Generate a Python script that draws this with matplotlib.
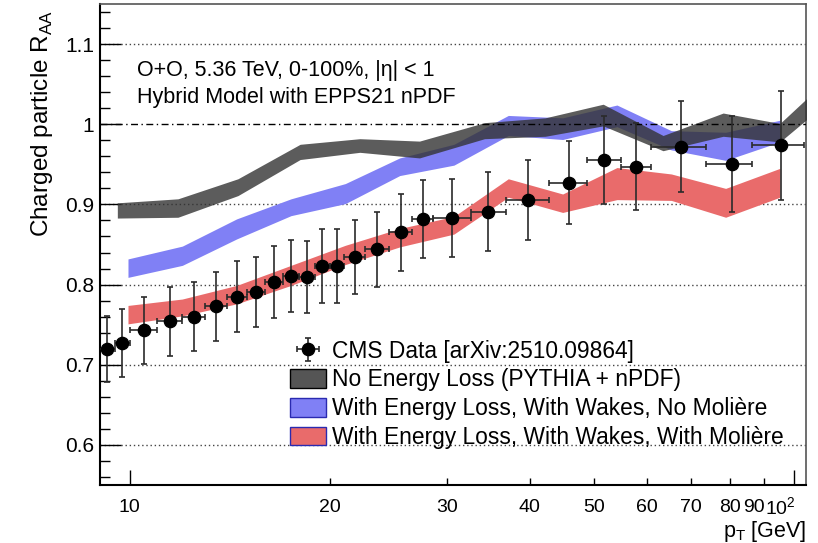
import numpy as np
import matplotlib
matplotlib.use("Agg")
import matplotlib.pyplot as plt
from matplotlib.patches import Patch
from matplotlib.ticker import FixedLocator, FixedFormatter, MultipleLocator, FuncFormatter
from matplotlib.transforms import ScaledTranslation, blended_transform_factory

plt.rcParams['font.family'] = ['Liberation Sans', 'DejaVu Sans']
plt.rcParams['mathtext.fontset'] = 'custom'
plt.rcParams['mathtext.rm'] = 'Liberation Sans'

# CMS data points
pt = [9.24, 9.75, 10.5, 11.5, 12.5, 13.5, 14.5, 15.5, 16.5, 17.5, 18.5, 19.5, 20.5,
      21.8, 23.6, 25.6, 27.6, 30.6, 34.6, 39.8, 45.8, 51.8, 57.9, 67.6, 80.5, 95.5]
bin_edges = [9.0, 9.5, 10, 11, 12, 13, 14, 15, 16, 17, 18, 19, 20, 21, 22.6, 24.6,
             26.6, 28.6, 32.6, 36.8, 42.8, 48.8, 54.8, 60.8, 73.6, 86.4, 103.6]
raa = [0.720, 0.727, 0.743, 0.754, 0.760, 0.773, 0.785, 0.791, 0.803, 0.811, 0.809,
       0.823, 0.823, 0.834, 0.844, 0.865, 0.882, 0.883, 0.891, 0.906, 0.927, 0.955,
       0.947, 0.972, 0.950, 0.974]
raa_err = [0.041, 0.042, 0.042, 0.043, 0.043, 0.043, 0.044, 0.044, 0.045, 0.045, 0.045,
           0.046, 0.046, 0.046, 0.047, 0.048, 0.049, 0.049, 0.049, 0.050, 0.052, 0.055,
           0.054, 0.057, 0.060, 0.068]

# no energy loss band
gray_pt = [9.58, 11.82, 14.55, 18.05, 22.2, 27.3, 34.2, 42.2, 51.6, 63.5, 78.2, 95.2, 117]
gray_lo = [0.883, 0.884, 0.911, 0.956, 0.965, 0.958, 0.982, 0.985, 0.998, 0.967, 0.985, 0.978, 1.04]
gray_hi = [0.902, 0.907, 0.932, 0.975, 0.982, 0.979, 1.002, 1.008, 1.025, 0.986, 1.014, 1.001, 1.07]

# energy loss bands
model_pt = [9.94, 12.0, 14.49, 17.49, 21.11, 25.49, 30.76, 37.14, 44.84, 54.12, 65.34, 78.88, 95.2]
blue_lo = [0.809, 0.824, 0.857, 0.886, 0.901, 0.936, 0.949, 0.986, 0.981, 0.997, 0.968, 0.955, 0.978]
blue_hi = [0.832, 0.848, 0.882, 0.907, 0.926, 0.958, 0.975, 1.011, 1.008, 1.024, 0.992, 0.990, 1.005]
red_lo = [0.751, 0.761, 0.776, 0.799, 0.825, 0.847, 0.863, 0.909, 0.890, 0.906, 0.905, 0.884, 0.909]
red_hi = [0.774, 0.782, 0.799, 0.824, 0.849, 0.870, 0.885, 0.932, 0.913, 0.946, 0.938, 0.920, 0.945]

labels = ["CMS Data [arXiv:2510.09864]",
          "No Energy Loss (PYTHIA + nPDF)",
          "With Energy Loss, With Wakes, No Molière",
          "With Energy Loss, With Wakes, With Molière"]

fig = plt.figure(figsize=(8.18, 5.43), dpi=100)
ax = fig.add_axes([0.1222, 0.1068, 0.8631, 0.8858])

red_c = '#e96b6b'
blue_c = '#8080f5'
gray_c = '#333333'

ax.fill_between(model_pt, red_lo, red_hi, color=red_c, lw=0, zorder=2)
ax.fill_between(model_pt, blue_lo, blue_hi, color=blue_c, lw=0, zorder=2)
ax.fill_between(gray_pt, gray_lo, gray_hi, color=gray_c, alpha=0.8, lw=0, zorder=3)

pt_a = np.array(pt)
edges = np.array(bin_edges)
xerr = [pt_a - edges[:-1], edges[1:] - pt_a]
data = ax.errorbar(pt, raa, yerr=raa_err, xerr=xerr, fmt='o', color='black', ms=8.8,
                   ecolor='#2b2b2b', elinewidth=1.2, capsize=2.2, capthick=1.2, zorder=5)

for y in [0.6, 0.7, 0.8, 0.9, 1.1]:
    ax.axhline(y, color='#444444', lw=1, ls=(0, (1, 2)), zorder=1)
ax.axhline(1.0, color='black', lw=1, ls=(0, (5, 2.5, 1, 2.5)), zorder=4)

ax.set_xscale('log')
ax.set_xlim(9.02, 104.2)
ax.set_ylim(0.55, 1.15)

ax.xaxis.set_major_locator(FixedLocator([10, 100]))
ax.xaxis.set_major_formatter(FixedFormatter(['10', r'$\mathregular{10^2}$']))
ax.xaxis.set_minor_locator(FixedLocator([20, 30, 40, 50, 60, 70, 80, 90]))
ax.xaxis.set_minor_formatter(FixedFormatter(['20', '30', '40', '50', '60', '70', '80', '90']))
ax.tick_params(axis='x', which='major', direction='in', length=10.8, width=1, labelsize=14, pad=10)
ax.tick_params(axis='x', which='minor', direction='in', length=5, width=1, labelsize=14, pad=10)

ax.yaxis.set_major_locator(MultipleLocator(0.1))
ax.yaxis.set_minor_locator(MultipleLocator(0.02))
ax.yaxis.set_major_formatter(FuncFormatter(lambda v, p: '%g' % round(v, 2)))
ax.tick_params(axis='y', which='major', direction='in', length=14.9, width=1, labelsize=15, pad=4)
ax.tick_params(axis='y', which='minor', direction='in', length=7.2, width=1)

for s in ['left', 'bottom']:
    ax.spines[s].set_linewidth(1.5)
for s in ['top', 'right']:
    ax.spines[s].set_linewidth(1.2)
    ax.spines[s].set_color('#555555')

ax.set_ylabel(r'Charged particle R$_{\mathregular{AA}}$', fontsize=17.5, loc='top')
ax.yaxis.set_label_coords(-0.082, 0.9875)
ax.yaxis.label.set_va('center')
ax.set_xlabel(r'p$_{\mathregular{T}}$ [GeV]', fontsize=15.5, loc='right')
ax.xaxis.set_label_coords(1.0, -0.096)
ax.xaxis.label.set_va('center')

tr = blended_transform_factory(ax.transAxes, ax.transData)
ax.text(0.052, 1.1 - (70 - 44) / 800, "O+O, 5.36 TeV, 0-100%, |η| < 1", fontsize=15.5,
        va='center', ha='left', transform=tr)
ax.text(0.052, 1.1 - (97 - 44) / 800, "Hybrid Model with EPPS21 nPDF", fontsize=15.5,
        va='center', ha='left', transform=tr)

handles = [data,
           Patch(facecolor='#555555', edgecolor='black', lw=1),
           Patch(facecolor=blue_c, edgecolor='#2a2ab0', lw=1),
           Patch(facecolor=red_c, edgecolor='#2a2ab0', lw=1)]
ax.legend(handles, labels, loc='upper left', bbox_to_anchor=(0.269, 0.302), frameon=False,
          fontsize=16.4, handlelength=1.6, handleheight=0.88, handletextpad=0.27,
          labelspacing=0.25, borderpad=0, borderaxespad=0)

fig.canvas.draw()
for tick in ax.xaxis.get_minor_ticks():
    if abs(tick.get_loc() - 90) < 1e-6:
        tick.label1.set_transform(tick.label1.get_transform() + ScaledTranslation(-0.10, 0, fig.dpi_scale_trans))
for tick in ax.xaxis.get_major_ticks():
    if abs(tick.get_loc() - 100) < 1e-6:
        tick.label1.set_transform(tick.label1.get_transform() + ScaledTranslation(-0.14, 0.03, fig.dpi_scale_trans))

fig.savefig('out.png', dpi=100)
